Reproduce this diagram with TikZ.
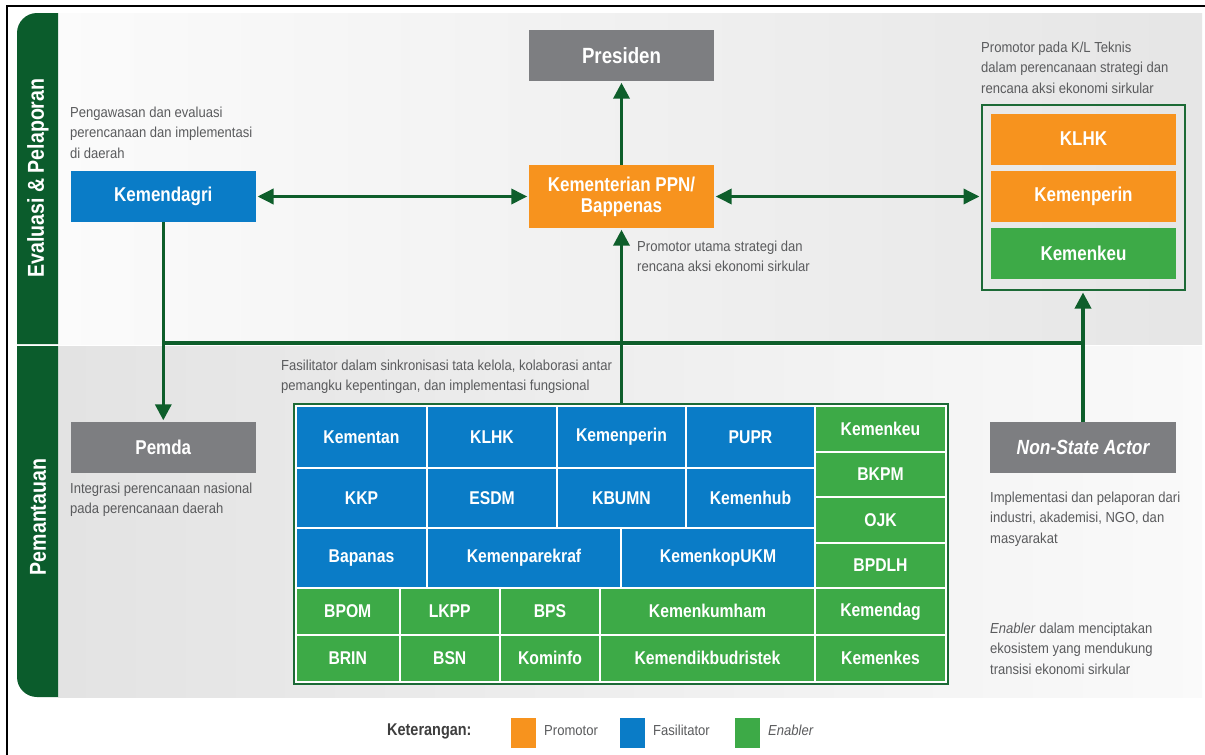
\documentclass[tikz,border=0pt]{standalone}
\usepackage{fontspec}
\setmainfont{Liberation Sans}[FakeStretch=0.9]
\newfontfamily\condb{Liberation Sans}[FakeStretch=0.85]
\usetikzlibrary{arrows.meta}
\definecolor{tabgreen}{HTML}{0B5C2C}
\definecolor{arrgreen}{HTML}{0E5E2B}
\definecolor{orng}{HTML}{F7931E}
\definecolor{blu}{HTML}{0A7CC7}
\definecolor{grn}{HTML}{3DAA47}
\definecolor{gbox}{HTML}{7D7E81}
\definecolor{txtgray}{HTML}{5A5B5D}
\definecolor{outgreen}{HTML}{1C6A36}
\definecolor{ketgray}{HTML}{3E3E3E}
\begin{document}
\begin{tikzpicture}[x=1pt,y=-1pt,
  box/.style={inner sep=0pt, text=white, font=\condb\bfseries\fontsize{20}{22}\selectfont, align=center, minimum width=185pt, minimum height=51pt},
  cell/.style={draw=white, line width=2pt, inner sep=0pt, text=white, font=\condb\bfseries\fontsize{18.5}{20}\selectfont},
  desc/.style={inner sep=0pt, anchor=north west, align=left, text=txtgray, font=\fontsize{14.5}{20.5}\selectfont},
  conn/.style={draw=arrgreen, line width=3.5pt},
  arr/.style={conn, -{Triangle[length=16pt,width=16pt]}, shorten >=1.5pt},
  darr/.style={conn, {Triangle[length=16pt,width=15pt]}-{Triangle[length=16pt,width=15pt]}, shorten >=1.5pt, shorten <=1.5pt},
  tablabel/.style={rotate=90, text=white, font=\condb\bfseries\fontsize{23}{24}\selectfont, inner sep=0pt},
  legsq/.style={minimum width=25pt, minimum height=30pt, inner sep=0pt},
  legtxt/.style={anchor=mid west, inner sep=0pt, text=txtgray, font=\fontsize{14.5}{17}\selectfont}
]
\useasboundingbox (0,0) rectangle (1205,755);
\fill[white] (0,0) rectangle (1205,755);
% bands
\shade[left color=white!60!black!4, right color=black!10] (58,13) rectangle (1202,344);
\shade[left color=black!11, right color=black!2] (58,346) rectangle (1202,697);
% tabs
\fill[tabgreen] (58,13) -- (58,344) -- (17,344) [rounded corners=20pt] -- (17,13) [sharp corners] -- cycle;
\fill[tabgreen] (58,346) -- (17,346) [rounded corners=20pt] -- (17,697) [sharp corners] -- (58,697) -- cycle;
\node[tablabel] (tabtop) at (38,178) {Evaluasi \& Pelaporan};
\node[tablabel] (tabbot) at (38,517) {Pemantauan};
% outer border
\draw[black, line width=2pt] (7,755) -- (7,6) -- (1205,6);

% main nodes
\node[box, fill=gbox, font=\condb\bfseries\fontsize{22}{24}\selectfont] (pres) at (621.5,55.5) {Presiden};
\node[box, fill=orng, minimum height=63pt] (bap) at (621.5,196.5) {Kementerian PPN/\\[-1pt]Bappenas};
\node[box, fill=blu] (kem) at (163.3,196.5) {Kemendagri};
\node[box, fill=gbox] (pemda) at (163.3,447.5) {Pemda};
\node[box, fill=gbox, minimum width=186pt, font=\condb\bfseries\itshape\fontsize{20.5}{22}\selectfont] (nsa) at (1083,447.5) {Non-State Actor};

% right group
\node[draw=outgreen, line width=2pt, minimum width=203pt, minimum height=185pt, inner sep=0pt] (grp) at (1083.5,197.5) {};
\node[box, fill=orng] (gklhk) at (1083.5,139) {KLHK};
\node[box, fill=orng] (gperin) at (1083.5,196.5) {Kemenperin};
\node[box, fill=grn] (gkeu) at (1083.5,253.5) {Kemenkeu};

% grid
\node[draw=outgreen, line width=2pt, fill=white, minimum width=654pt, minimum height=280pt, inner sep=0pt] (grid) at (621,544) {};
% row 1
\node[cell, fill=blu, minimum width=131pt, minimum height=61.5pt] (c11) at (361.5,436.75) {Kementan};
\node[cell, fill=blu, minimum width=130pt, minimum height=61.5pt] (c12) at (492,436.75) {KLHK};
\node[cell, fill=blu, minimum width=129pt, minimum height=61.5pt] (c13) at (621.5,436.75) {Kemenperin};
\node[cell, fill=blu, minimum width=129pt, minimum height=61.5pt] (c14) at (750.5,436.75) {PUPR};
% row 2
\node[cell, fill=blu, minimum width=131pt, minimum height=60.5pt] (c21) at (361.5,497.75) {KKP};
\node[cell, fill=blu, minimum width=130pt, minimum height=60.5pt] (c22) at (492,497.75) {ESDM};
\node[cell, fill=blu, minimum width=129pt, minimum height=60.5pt] (c23) at (621.5,497.75) {KBUMN};
\node[cell, fill=blu, minimum width=129pt, minimum height=60.5pt] (c24) at (750.5,497.75) {Kemenhub};
% row 3
\node[cell, fill=blu, minimum width=131pt, minimum height=59.5pt] (c31) at (361.5,557.75) {Bapanas};
\node[cell, fill=blu, minimum width=194pt, minimum height=59.5pt] (c32) at (524,557.75) {Kemenparekraf};
\node[cell, fill=blu, minimum width=194pt, minimum height=59.5pt] (c33) at (718,557.75) {KemenkopUKM};
% row 4
\node[cell, fill=grn, minimum width=103.5pt, minimum height=47pt] (c41) at (347.75,611) {BPOM};
\node[cell, fill=grn, minimum width=100.5pt, minimum height=47pt] (c42) at (449.75,611) {LKPP};
\node[cell, fill=grn, minimum width=100pt, minimum height=47pt] (c43) at (550,611) {BPS};
\node[cell, fill=grn, minimum width=215pt, minimum height=47pt] (c44) at (707.5,611) {Kemenkumham};
% row 5
\node[cell, fill=grn, minimum width=103.5pt, minimum height=47.5pt] (c51) at (347.75,658.25) {BRIN};
\node[cell, fill=grn, minimum width=100.5pt, minimum height=47.5pt] (c52) at (449.75,658.25) {BSN};
\node[cell, fill=grn, minimum width=100pt, minimum height=47.5pt] (c53) at (550,658.25) {Kominfo};
\node[cell, fill=grn, minimum width=215pt, minimum height=47.5pt] (c54) at (707.5,658.25) {Kemendikbudristek};
% right column
\node[cell, fill=grn, minimum width=131pt, minimum height=45.5pt] (r1) at (880.5,428.75) {Kemenkeu};
\node[cell, fill=grn, minimum width=131pt, minimum height=45.5pt] (r2) at (880.5,474.25) {BKPM};
\node[cell, fill=grn, minimum width=131pt, minimum height=45.5pt] (r3) at (880.5,519.75) {OJK};
\node[cell, fill=grn, minimum width=131pt, minimum height=45.5pt] (r4) at (880.5,565.25) {BPDLH};
\node[cell, fill=grn, minimum width=131pt, minimum height=46.5pt] (r5) at (880.5,611.25) {Kemendag};
\node[cell, fill=grn, minimum width=131pt, minimum height=47.5pt] (r6) at (880.5,658.25) {Kemenkes};

% descriptions
\node[desc] (d1) at (70,106.5) {Pengawasan dan evaluasi\\perencanaan dan implementasi\\di daerah};
\node[desc] (d2) at (637,240.5) {Promotor utama strategi dan\\rencana aksi ekonomi sirkular};
\node[desc] (d3) at (981,41.5) {Promotor pada K/L Teknis\\dalam perencanaan strategi dan\\rencana aksi ekonomi sirkular};
\node[desc] (d4) at (281,359.5) {Fasilitator dalam sinkronisasi tata kelola, kolaborasi antar\\pemangku kepentingan, dan implementasi fungsional};
\node[desc] (d5) at (70,482.5) {Integrasi perencanaan nasional\\pada perencanaan daerah};
\node[desc] (d6) at (990,491.5) {Implementasi dan pelaporan dari\\industri, akademisi, NGO, dan\\masyarakat};
\node[desc] (d7) at (990,622.5) {\textit{Enabler} dalam menciptakan\\ekosistem yang mendukung\\transisi ekonomi sirkular};

% connectors
\coordinate (busL) at (163.3,343);
\coordinate (busR) at (1083,343);
\draw[conn] (busL) -- (busR);
\draw[arr] (bap.north) -- (pres.south);
\draw[darr] (kem.east) -- (bap.west);
\draw[darr] (bap.east) -- (bap.east -| grp.west);
\draw[arr] (bap.south |- grid.north) -- (bap.south);
\draw[arr] (kem.south) -- (pemda.north);
\draw[arr] (nsa.north) -- (nsa.north |- grp.south);

% legend
\node[anchor=mid west, inner sep=0pt, text=ketgray, font=\condb\bfseries\fontsize{17}{18}\selectfont] (ket) at (387,733) {Keterangan:};
\node[legsq, fill=orng] (lo) at (523.5,733) {};
\node[legtxt] (lot) at (544,733) {Promotor};
\node[legsq, fill=blu] (lb) at (632,733) {};
\node[legtxt] (lbt) at (653,733) {Fasilitator};
\node[legsq, fill=grn] (lg) at (747,733) {};
\node[legtxt, font=\itshape\fontsize{14.5}{17}\selectfont] (lgt) at (768,733) {Enabler};
\end{tikzpicture}
\end{document}
